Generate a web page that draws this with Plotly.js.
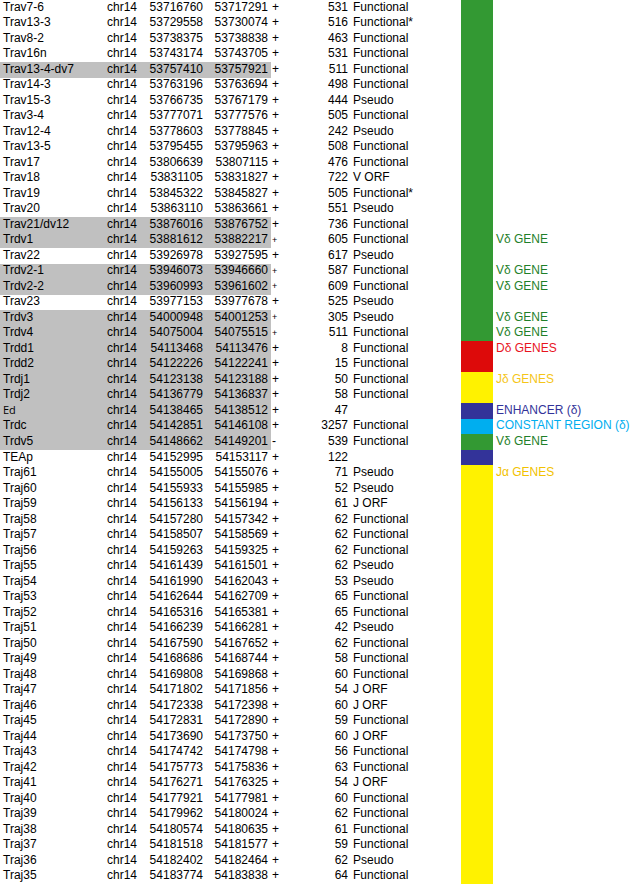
<!DOCTYPE html>
<html>
<head>
<meta charset="utf-8">
<script src="https://cdn.plot.ly/plotly-3.0.1.min.js"></script>
<style>html,body{margin:0;padding:0;background:#fff;}#chart{width:630px;height:884px;}</style>
</head>
<body>
<div id="chart"></div>
<script>
const names = ["Trav7-6","Trav13-3","Trav8-2","Trav16n","Trav13-4-dv7","Trav14-3","Trav15-3","Trav3-4","Trav12-4","Trav13-5","Trav17","Trav18","Trav19","Trav20","Trav21/dv12","Trdv1","Trav22","Trdv2-1","Trdv2-2","Trav23","Trdv3","Trdv4","Trdd1","Trdd2","Trdj1","Trdj2","Ed","Trdc","Trdv5","TEAp","Traj61","Traj60","Traj59","Traj58","Traj57","Traj56","Traj55","Traj54","Traj53","Traj52","Traj51","Traj50","Traj49","Traj48","Traj47","Traj46","Traj45","Traj44","Traj43","Traj42","Traj41","Traj40","Traj39","Traj38","Traj37","Traj36","Traj35"];
const chromosome = "chr14";
const starts = [53716760,53729558,53738375,53743174,53757410,53763196,53766735,53777071,53778603,53795455,53806639,53831105,53845322,53863110,53876016,53881612,53926978,53946073,53960993,53977153,54000948,54075004,54113468,54122226,54123138,54136779,54138465,54142851,54148662,54152995,54155005,54155933,54156133,54157280,54158507,54159263,54161439,54161990,54162644,54165316,54166239,54167590,54168686,54169808,54171802,54172338,54172831,54173690,54174742,54175773,54176271,54177921,54179962,54180574,54181518,54182402,54183774];
const ends = [53717291,53730074,53738838,53743705,53757921,53763694,53767179,53777576,53778845,53795963,53807115,53831827,53845827,53863661,53876752,53882217,53927595,53946660,53961602,53977678,54001253,54075515,54113476,54122241,54123188,54136837,54138512,54146108,54149201,54153117,54155076,54155985,54156194,54157342,54158569,54159325,54161501,54162043,54162709,54165381,54166281,54167652,54168744,54169868,54171856,54172398,54172890,54173750,54174798,54175836,54176325,54177981,54180024,54180635,54181577,54182464,54183838];
const strands = ["+","+","+","+","+","+","+","+","+","+","+","+","+","+","+","+","+","+","+","+","+","+","+","+","+","+","+","+","-","+","+","+","+","+","+","+","+","+","+","+","+","+","+","+","+","+","+","+","+","+","+","+","+","+","+","+","+"];
const lengths = [531,516,463,531,511,498,444,505,242,508,476,722,505,551,736,605,617,587,609,525,305,511,8,15,50,58,47,3257,539,122,71,52,61,62,62,62,62,53,65,65,42,62,58,60,54,60,59,60,56,63,54,60,62,61,59,62,64];
const types = ["Functional","Functional*","Functional","Functional","Functional","Functional","Pseudo","Functional","Pseudo","Functional","Functional","V ORF","Functional*","Pseudo","Functional","Functional","Pseudo","Functional","Functional","Pseudo","Pseudo","Functional","Functional","Functional","Functional","Functional","","Functional","Functional","","Pseudo","Pseudo","J ORF","Functional","Functional","Functional","Pseudo","Pseudo","Functional","Functional","Pseudo","Functional","Functional","Functional","J ORF","J ORF","Functional","J ORF","Functional","Functional","J ORF","Functional","Functional","Functional","Functional","Pseudo","Functional"];
const highlighted = ["Trav13-4-dv7","Trav21/dv12","Trdv1","Trdv2-1","Trdv2-2","Trdv3","Trdv4","Trdd1","Trdd2","Trdj1","Trdj2","Ed","Trdc","Trdv5"];
const smallStrand = ["Trdv1","Trdv2-1","Trdv2-2","Trdv3","Trdv4"];
// region per row for the colour strip
const regions = ["V","V","V","V","V","V","V","V","V","V","V","V","V","V","V","V","V","V","V","V","V","V","D","D","Jd","Jd","E","C","V","E","Ja","Ja","Ja","Ja","Ja","Ja","Ja","Ja","Ja","Ja","Ja","Ja","Ja","Ja","Ja","Ja","Ja","Ja","Ja","Ja","Ja","Ja","Ja","Ja","Ja","Ja","Ja"];
const labelRows = ["Trdv1","Trdv2-1","Trdv2-2","Trdv3","Trdv4","Trdd1","Trdj1","Ed","Trdc","Trdv5","Traj61"];
const labelTexts = ["Vδ GENE","Vδ GENE","Vδ GENE","Vδ GENE","Vδ GENE","Dδ GENES","Jδ GENES","ENHANCER (δ)","CONSTANT REGION (δ)","Vδ GENE","Jα GENES"];
const labelKeys = ["V","V","V","V","V","D","Jd","E","C","V","Ja"];

const stripColor = {V:"#339933", D:"#dd0a0a", Jd:"#fff200", E:"#333399", C:"#00aeef", Ja:"#fff200"};
const labelColor = {V:"#1f7f2a", D:"#e8141e", Jd:"#f5c518", E:"#333399", C:"#00aeef", Ja:"#f2c200"};

const rows = names.map((_, i) => i);
const FONT = "Liberation Sans, Arial, sans-serif";
const baseFont = {family: FONT, size: 12, color: "#000"};

function textTrace(x, texts, pos, font) {
  return {type: "scatter", mode: "text", x: rows.map(() => x), y: rows, text: texts,
    textposition: pos, textfont: font || baseFont, hoverinfo: "skip", showlegend: false, cliponaxis: false};
}

const hiIdx = names.map((n, i) => highlighted.includes(n) ? i : -1).filter(i => i >= 0);
const traces = [
  {type: "bar", orientation: "h", y: hiIdx, x: hiIdx.map(() => 271), base: 0, width: 1,
   marker: {color: "#c0c0c0", line: {width: 0}}, hoverinfo: "skip", showlegend: false},
  {type: "bar", orientation: "h", y: rows, x: rows.map(() => 32), base: 461, width: 1,
   marker: {color: regions.map(r => stripColor[r]), line: {width: 0}}, hoverinfo: "skip", showlegend: false},
  textTrace(3, names, "middle right", {family: names.map(n => n === "Ed" ? "Open Sans" : FONT), size: names.map(n => n === "Ed" ? 11 : 12), color: "#000"}),
  textTrace(107, names.map(() => chromosome), "middle right"),
  textTrace(203, starts.map(String), "middle left"),
  textTrace(268, ends.map(String), "middle left"),
  textTrace(272, strands, "middle right", {family: FONT, size: names.map(n => smallStrand.includes(n) ? 9 : 12), color: "#000"}),
  textTrace(348, lengths.map(String), "middle left"),
  textTrace(353, types, "middle right"),
  {type: "scatter", mode: "text", x: labelRows.map(() => 496), y: labelRows.map(n => names.indexOf(n)),
   text: labelTexts, textposition: "middle right",
   textfont: {family: FONT, size: 12, color: labelKeys.map(k => labelColor[k])},
   hoverinfo: "skip", showlegend: false, cliponaxis: false}
];

const layout = {
  width: 630, height: 884,
  margin: {l: 0, r: 0, t: 0, b: 0},
  paper_bgcolor: "#fff", plot_bgcolor: "#fff",
  barmode: "overlay", bargap: 0,
  xaxis: {range: [0, 630], visible: false, fixedrange: true},
  yaxis: {range: [56.5, -0.5], visible: false, fixedrange: true},
  showlegend: false
};
Plotly.newPlot("chart", traces, layout, {displayModeBar: false, staticPlot: true});
</script>
</body>
</html>
